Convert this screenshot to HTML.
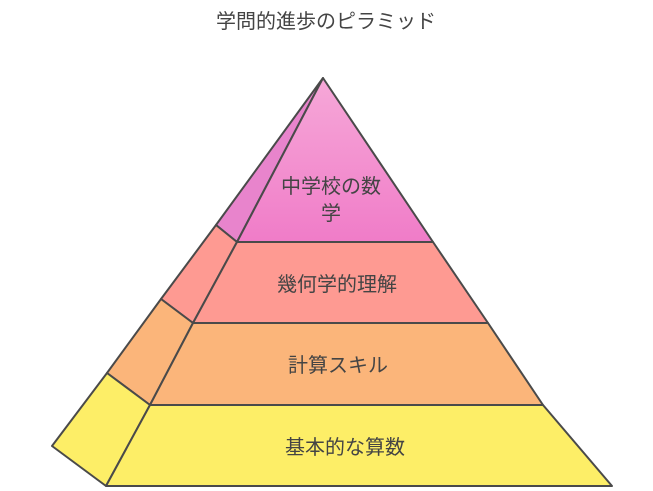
<!DOCTYPE html>
<html><head><meta charset="utf-8"><style>
html,body{margin:0;padding:0;background:#fff;}
svg{display:block;}
text{font-family:"Liberation Sans","Noto Sans CJK JP",sans-serif;fill:#444;}
</style></head><body>
<svg width="653" height="491" viewBox="0 0 653 491">
<defs><linearGradient id="pk" x1="0" y1="0" x2="0" y2="1"><stop offset="0" stop-color="#f6a8d8"/><stop offset="1" stop-color="#f07cc8"/></linearGradient></defs>
<text x="326" y="28" font-size="20" text-anchor="middle">学問的進歩のピラミッド</text>
<g stroke="#4a4a4a" stroke-width="2" stroke-linejoin="round">
<polygon points="323,78 216,225 237,242" fill="#e884cc"/>
<polygon points="216,225 161,299 193,323 237,242" fill="#fe9a92"/>
<polygon points="161,299 107,373 150,405 193,323" fill="#fbb57a"/>
<polygon points="107,373 52,446 106,486 150,405" fill="#fdee67"/>
<polygon points="323,78 433,242 237,242" fill="url(#pk)"/>
<polygon points="237,242 433,242 488,323 193,323" fill="#fe9a92"/>
<polygon points="193,323 488,323 543,405 150,405" fill="#fbb57a"/>
<polygon points="150,405 543,405 612,486 106,486" fill="#fdee67"/>
</g>
<g font-size="20" text-anchor="middle">
<text x="331" y="193">中学校の数</text>
<text x="331" y="220">学</text>
<text x="337" y="291">幾何学的理解</text>
<text x="338" y="372">計算スキル</text>
<text x="345" y="454">基本的な算数</text>
</g>
</svg>
</body></html>
